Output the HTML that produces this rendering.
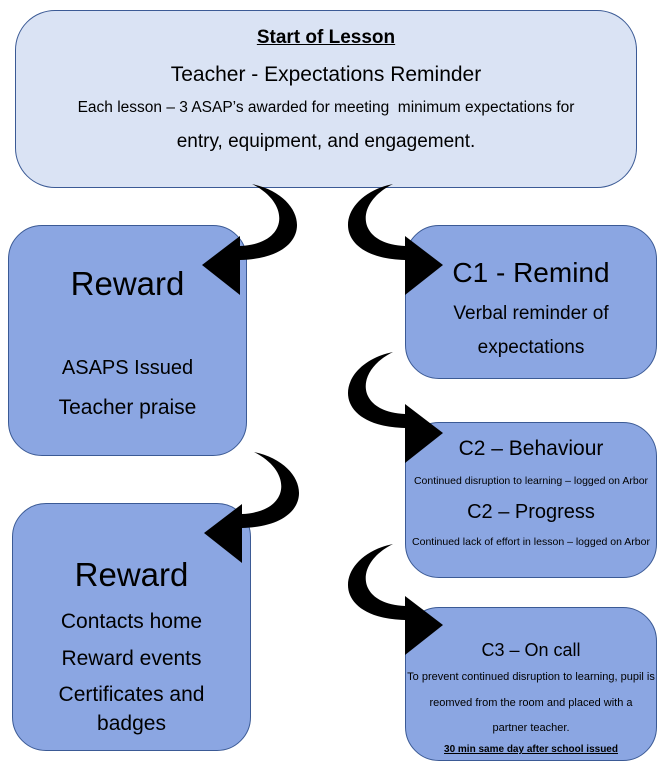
<!DOCTYPE html>
<html><head><style>
body{margin:0;width:659px;height:764px;background:#fff;position:relative;overflow:hidden;font-family:"Liberation Sans",sans-serif;color:#000}
.b{position:absolute;border:1.5px solid #3b5a95;box-sizing:border-box;background:#8ba6e2;border-radius:34px}
.t{position:absolute;left:-10px;right:-10px;text-align:center;white-space:nowrap;line-height:1}
svg{position:absolute;left:0;top:0}
</style></head><body>
<div class="b" style="left:15px;top:10px;width:622px;height:178px;background:#dae3f4;border-radius:40px">
 <div class="t" style="top:17px;font-size:19px;font-weight:bold;text-decoration:underline">Start of Lesson</div>
 <div class="t" style="top:53px;font-size:21px">Teacher - Expectations Reminder</div>
 <div class="t" style="top:89px;font-size:15.5px">Each lesson – 3 ASAP’s awarded for meeting&nbsp; minimum expectations for</div>
 <div class="t" style="top:121px;font-size:19px">entry, equipment, and engagement.</div>
</div>
<div class="b" style="left:8px;top:225px;width:239px;height:231px">
 <div class="t" style="top:41px;font-size:33px">Reward</div>
 <div class="t" style="top:132px;font-size:20px">ASAPS Issued</div>
 <div class="t" style="top:171px;font-size:21px">Teacher praise</div>
</div>
<div class="b" style="left:12px;top:503px;width:239px;height:248px">
 <div class="t" style="top:54px;font-size:33px">Reward</div>
 <div class="t" style="top:107px;font-size:21px">Contacts home</div>
 <div class="t" style="top:144px;font-size:21px">Reward events</div>
 <div class="t" style="top:180px;font-size:21px">Certificates and</div>
 <div class="t" style="top:209px;font-size:21px">badges</div>
</div>
<div class="b" style="left:405px;top:225px;width:252px;height:154px">
 <div class="t" style="top:33px;font-size:28px">C1 - Remind</div>
 <div class="t" style="top:78px;font-size:19px">Verbal reminder of</div>
 <div class="t" style="top:112px;font-size:19px">expectations</div>
</div>
<div class="b" style="left:405px;top:422px;width:252px;height:156px">
 <div class="t" style="top:15px;font-size:21px">C2 – Behaviour</div>
 <div class="t" style="top:53px;font-size:10.5px">Continued disruption to learning – logged on Arbor</div>
 <div class="t" style="top:79px;font-size:20px">C2 – Progress</div>
 <div class="t" style="top:114px;font-size:10.5px">Continued lack of effort in lesson – logged on Arbor</div>
</div>
<div class="b" style="left:405px;top:607px;width:252px;height:154px">
 <div class="t" style="top:33px;font-size:18px">C3 – On call</div>
 <div class="t" style="top:64px;font-size:11px">To prevent continued disruption to learning, pupil is</div>
 <div class="t" style="top:90px;font-size:11px">reomved from the room and placed with a</div>
 <div class="t" style="top:115px;font-size:11px">partner teacher.</div>
 <div class="t" style="top:137px;font-size:10px;font-weight:bold;text-decoration:underline">30 min same day after school issued</div>
</div>
<svg width="659" height="764">
<defs>
<path id="L" d="M252,184 C310,196 318,258 240,260 L240,295 L202,265 L240,236 L240,246 C288,244 292,204 252,184 Z" fill="#000"/>
<path id="R" d="M393,184 C335,196 327,258 405,260 L405,295 L443,265 L405,236 L405,246 C357,244 353,204 393,184 Z" fill="#000"/>
</defs>
<use href="#L"/>
<use href="#R"/>
<use href="#L" transform="translate(2,268)"/>
<use href="#R" transform="translate(0,168)"/>
<use href="#R" transform="translate(0,360)"/>
</svg>
</body></html>
